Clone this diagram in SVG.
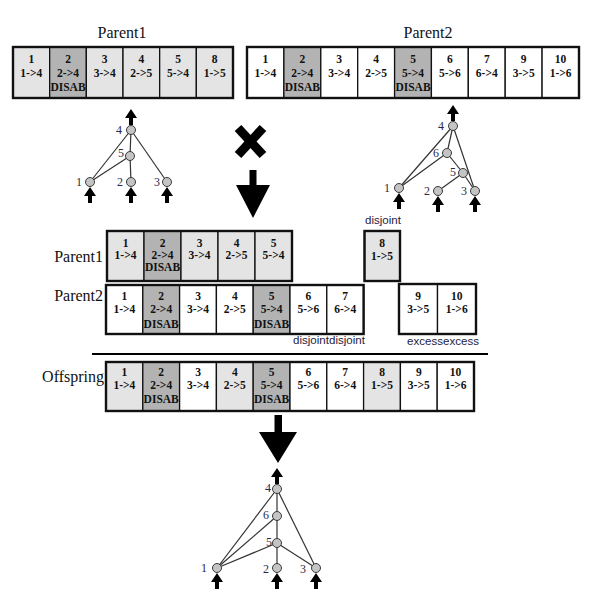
<svg xmlns="http://www.w3.org/2000/svg" xmlns:xlink="http://www.w3.org/1999/xlink" width="603" height="610" viewBox="0 0 603 610">
<style>
.bg{fill:#ffffff}
.c{stroke:#111;stroke-width:1.3}
.lt{fill:#e4e4e4}
.dk{fill:#b3b3b3}
.wh{fill:#ffffff}
.frame{fill:none;stroke:#111;stroke-width:2.4}
.t{font-family:"Liberation Serif","Times New Roman",serif;font-weight:bold;font-size:11.5px;fill:#111;text-anchor:middle}
.title{font-family:"Liberation Serif","Times New Roman",serif;font-size:16px;fill:#111}
.lab{font-family:"Liberation Sans",Arial,sans-serif;font-size:11.5px;fill:#1e2240;text-anchor:middle}
.nl{font-family:"Liberation Serif","Times New Roman",serif;font-size:12px;fill:#2a2a48;text-anchor:middle}
.node{fill:#c4c4c4;stroke:#3a3a3a;stroke-width:1}
.edge{stroke:#333;stroke-width:1.2;fill:none}
.arr{fill:#000}
</style>
<defs>
<path id="up" d="M0,0 L6,9 L2,9 L2,16 L-2,16 L-2,9 L-6,9 Z"/>
</defs>
<rect class="bg" x="0" y="0" width="603" height="610"/>

<!-- Top titles -->
<text class="title" x="122" y="38" text-anchor="middle">Parent1</text>
<text class="title" x="428" y="38" text-anchor="middle">Parent2</text>

<!-- Top Parent1 genome -->
<g id="top-p1">
<g id="tp1-g1"><rect class="c lt" x="13" y="47" width="36.67" height="51"/><text class="t" x="31.3" y="63">1</text><text class="t" x="31.3" y="77">1-&gt;4</text></g>
<g id="tp1-g2"><rect class="c dk" x="49.67" y="47" width="36.67" height="51"/><text class="t" x="68" y="63">2</text><text class="t" x="68" y="77">2-&gt;4</text><text class="t" x="68" y="91">DISAB</text></g>
<g id="tp1-g3"><rect class="c lt" x="86.33" y="47" width="36.67" height="51"/><text class="t" x="104.7" y="63">3</text><text class="t" x="104.7" y="77">3-&gt;4</text></g>
<g id="tp1-g4"><rect class="c lt" x="123" y="47" width="36.67" height="51"/><text class="t" x="141.3" y="63">4</text><text class="t" x="141.3" y="77">2-&gt;5</text></g>
<g id="tp1-g5"><rect class="c lt" x="159.67" y="47" width="36.67" height="51"/><text class="t" x="178" y="63">5</text><text class="t" x="178" y="77">5-&gt;4</text></g>
<g id="tp1-g8"><rect class="c lt" x="196.33" y="47" width="36.67" height="51"/><text class="t" x="214.7" y="63">8</text><text class="t" x="214.7" y="77">1-&gt;5</text></g>
<rect class="frame" x="13" y="47" width="220" height="51"/>
</g>

<!-- Top Parent2 genome -->
<g id="top-p2">
<g id="tp2-g1"><rect class="c wh" x="247" y="47" width="36.89" height="51"/><text class="t" x="265.4" y="63">1</text><text class="t" x="265.4" y="77">1-&gt;4</text></g>
<g id="tp2-g2"><rect class="c dk" x="283.9" y="47" width="36.89" height="51"/><text class="t" x="302.3" y="63">2</text><text class="t" x="302.3" y="77">2-&gt;4</text><text class="t" x="302.3" y="91">DISAB</text></g>
<g id="tp2-g3"><rect class="c wh" x="320.8" y="47" width="36.89" height="51"/><text class="t" x="339.2" y="63">3</text><text class="t" x="339.2" y="77">3-&gt;4</text></g>
<g id="tp2-g4"><rect class="c wh" x="357.7" y="47" width="36.89" height="51"/><text class="t" x="376.1" y="63">4</text><text class="t" x="376.1" y="77">2-&gt;5</text></g>
<g id="tp2-g5"><rect class="c dk" x="394.6" y="47" width="36.89" height="51"/><text class="t" x="413" y="63">5</text><text class="t" x="413" y="77">5-&gt;4</text><text class="t" x="413" y="91">DISAB</text></g>
<g id="tp2-g6"><rect class="c wh" x="431.4" y="47" width="36.89" height="51"/><text class="t" x="449.9" y="63">6</text><text class="t" x="449.9" y="77">5-&gt;6</text></g>
<g id="tp2-g7"><rect class="c wh" x="468.3" y="47" width="36.89" height="51"/><text class="t" x="486.8" y="63">7</text><text class="t" x="486.8" y="77">6-&gt;4</text></g>
<g id="tp2-g9"><rect class="c wh" x="505.2" y="47" width="36.89" height="51"/><text class="t" x="523.7" y="63">9</text><text class="t" x="523.7" y="77">3-&gt;5</text></g>
<g id="tp2-g10"><rect class="c wh" x="542.1" y="47" width="36.89" height="51"/><text class="t" x="560.6" y="63">10</text><text class="t" x="560.6" y="77">1-&gt;6</text></g>
<rect class="frame" x="247" y="47" width="332" height="51"/>
</g>

<!-- Connectors: network edges and arrows -->
<g id="connectors">
<!-- parent1 network -->
<line class="edge" x1="131" y1="130" x2="90" y2="182"/>
<line class="edge" x1="131" y1="130" x2="167" y2="182"/>
<line class="edge" x1="131" y1="130" x2="130" y2="156"/>
<line class="edge" x1="130" y1="156" x2="131" y2="182"/>
<line class="edge" x1="130" y1="156" x2="90" y2="182"/>
<use href="#up" class="arr" x="131" y="109"/>
<use href="#up" class="arr" x="90" y="187"/>
<use href="#up" class="arr" x="131" y="187"/>
<use href="#up" class="arr" x="167" y="187"/>
<!-- parent2 network -->
<line class="edge" x1="453" y1="126" x2="399" y2="188"/>
<line class="edge" x1="453" y1="126" x2="447" y2="153"/>
<line class="edge" x1="453" y1="126" x2="475" y2="191"/>
<line class="edge" x1="447" y1="153" x2="399" y2="188"/>
<line class="edge" x1="447" y1="153" x2="463" y2="173"/>
<line class="edge" x1="463" y1="173" x2="438" y2="191"/>
<line class="edge" x1="463" y1="173" x2="475" y2="191"/>
<use href="#up" class="arr" x="453" y="105"/>
<use href="#up" class="arr" x="399" y="193"/>
<use href="#up" class="arr" x="438" y="196"/>
<use href="#up" class="arr" x="475" y="196"/>
<!-- offspring network -->
<line class="edge" x1="277" y1="489" x2="217" y2="568"/>
<line class="edge" x1="277" y1="489" x2="277" y2="516"/>
<line class="edge" x1="277" y1="489" x2="316" y2="568"/>
<line class="edge" x1="277" y1="516" x2="277" y2="543"/>
<line class="edge" x1="277" y1="516" x2="217" y2="568"/>
<line class="edge" x1="277" y1="543" x2="217" y2="568"/>
<line class="edge" x1="277" y1="543" x2="277" y2="568"/>
<line class="edge" x1="277" y1="543" x2="316" y2="568"/>
<use href="#up" class="arr" x="277" y="468"/>
<use href="#up" class="arr" x="217" y="573"/>
<use href="#up" class="arr" x="277" y="573"/>
<use href="#up" class="arr" x="316" y="573"/>
<!-- big arrows -->
<path class="arr" d="M249.5,170 L256.5,170 L256.5,185 L270,185 L253,218 L236,185 L249.5,185 Z"/>
<path class="arr" d="M274.5,415 L282,415 L282,432 L297,432 L278,463 L259,432 L274.5,432 Z"/>
</g>

<!-- cross sign -->
<g id="cross">
<line x1="238" y1="128" x2="263" y2="155" stroke="#000" stroke-width="9"/>
<line x1="263" y1="128" x2="238" y2="155" stroke="#000" stroke-width="9"/>
</g>

<!-- Parent1 network nodes -->
<g id="p1-n4"><circle class="node" cx="131" cy="130" r="4.5"/><text class="nl" x="119" y="134">4</text></g>
<g id="p1-n5"><circle class="node" cx="130" cy="156" r="4.5"/><text class="nl" x="121" y="157">5</text></g>
<g id="p1-n1"><circle class="node" cx="90" cy="182" r="4.5"/><text class="nl" x="79" y="186">1</text></g>
<g id="p1-n2"><circle class="node" cx="131" cy="182" r="4.5"/><text class="nl" x="120" y="186">2</text></g>
<g id="p1-n3"><circle class="node" cx="167" cy="182" r="4.5"/><text class="nl" x="157" y="186">3</text></g>

<!-- Parent2 network nodes -->
<g id="p2-n4"><circle class="node" cx="453" cy="126" r="4.5"/><text class="nl" x="441" y="130">4</text></g>
<g id="p2-n6"><circle class="node" cx="447" cy="153" r="4.5"/><text class="nl" x="436" y="157">6</text></g>
<g id="p2-n5"><circle class="node" cx="463" cy="173" r="4.5"/><text class="nl" x="453" y="176">5</text></g>
<g id="p2-n1"><circle class="node" cx="399" cy="188" r="4.5"/><text class="nl" x="387" y="192">1</text></g>
<g id="p2-n2"><circle class="node" cx="438" cy="191" r="4.5"/><text class="nl" x="427" y="195">2</text></g>
<g id="p2-n3"><circle class="node" cx="475" cy="191" r="4.5"/><text class="nl" x="464" y="195">3</text></g>

<!-- Middle section -->
<text class="title" x="103" y="262" text-anchor="end">Parent1</text>
<text class="title" x="103" y="301" text-anchor="end">Parent2</text>

<g id="mid-p1">
<g id="mp1-g1"><rect class="c lt" x="107" y="231" width="37" height="50"/><text class="t" x="125.5" y="247">1</text><text class="t" x="125.5" y="259">1-&gt;4</text></g>
<g id="mp1-g2"><rect class="c dk" x="144" y="231" width="37" height="50"/><text class="t" x="162.5" y="247">2</text><text class="t" x="162.5" y="259">2-&gt;4</text><text class="t" x="162.5" y="271">DISAB</text></g>
<g id="mp1-g3"><rect class="c lt" x="181" y="231" width="37" height="50"/><text class="t" x="199.5" y="247">3</text><text class="t" x="199.5" y="259">3-&gt;4</text></g>
<g id="mp1-g4"><rect class="c lt" x="218" y="231" width="37" height="50"/><text class="t" x="236.5" y="247">4</text><text class="t" x="236.5" y="259">2-&gt;5</text></g>
<g id="mp1-g5"><rect class="c lt" x="255" y="231" width="37" height="50"/><text class="t" x="273.5" y="247">5</text><text class="t" x="273.5" y="259">5-&gt;4</text></g>
<rect class="frame" x="107" y="231" width="185" height="50"/>
</g>

<g id="mid-p1-g8">
<rect class="c lt" x="364.5" y="231" width="35.5" height="50"/>
<rect class="frame" x="364.5" y="231" width="35.5" height="50"/>
<text class="t" x="382" y="247">8</text><text class="t" x="382" y="260">1-&gt;5</text>
</g>
<text class="lab" x="383" y="224">disjoint</text>

<g id="mid-p2">
<g id="mp2-g1"><rect class="c wh" x="106" y="285" width="36.8" height="49"/><text class="t" x="124.4" y="300">1</text><text class="t" x="124.4" y="313">1-&gt;4</text></g>
<g id="mp2-g2"><rect class="c dk" x="142.8" y="285" width="36.8" height="49"/><text class="t" x="161.2" y="300">2</text><text class="t" x="161.2" y="313">2-&gt;4</text><text class="t" x="161.2" y="328">DISAB</text></g>
<g id="mp2-g3"><rect class="c wh" x="179.6" y="285" width="36.8" height="49"/><text class="t" x="198" y="300">3</text><text class="t" x="198" y="313">3-&gt;4</text></g>
<g id="mp2-g4"><rect class="c wh" x="216.4" y="285" width="36.8" height="49"/><text class="t" x="234.8" y="300">4</text><text class="t" x="234.8" y="313">2-&gt;5</text></g>
<g id="mp2-g5"><rect class="c dk" x="253.2" y="285" width="36.8" height="49"/><text class="t" x="271.6" y="300">5</text><text class="t" x="271.6" y="313">5-&gt;4</text><text class="t" x="271.6" y="328">DISAB</text></g>
<g id="mp2-g6"><rect class="c wh" x="290" y="285" width="36.8" height="49"/><text class="t" x="308.4" y="300">6</text><text class="t" x="308.4" y="313">5-&gt;6</text></g>
<g id="mp2-g7"><rect class="c wh" x="326.8" y="285" width="36.8" height="49"/><text class="t" x="345.2" y="300">7</text><text class="t" x="345.2" y="313">6-&gt;4</text></g>
<rect class="frame" x="106" y="285" width="257.6" height="49"/>
</g>

<g id="mid-p2-excess">
<g id="mp2-g9"><rect class="c wh" x="399" y="284" width="38.5" height="50"/><text class="t" x="418.2" y="300">9</text><text class="t" x="418.2" y="313">3-&gt;5</text></g>
<g id="mp2-g10"><rect class="c wh" x="437.5" y="284" width="38.5" height="50"/><text class="t" x="456.7" y="300">10</text><text class="t" x="456.7" y="313">1-&gt;6</text></g>
<rect class="frame" x="399" y="284" width="77" height="50"/>
</g>

<text class="lab" x="311" y="344">disjoint</text>
<text class="lab" x="347" y="344">disjoint</text>
<text class="lab" x="425" y="345">excess</text>
<text class="lab" x="461" y="345">excess</text>

<line x1="92" y1="354" x2="488" y2="354" stroke="#000" stroke-width="2"/>

<!-- Offspring -->
<text class="title" x="104" y="382" text-anchor="end">Offspring</text>
<g id="offspring">
<g id="of-g1"><rect class="c lt" x="106" y="362" width="36.8" height="49"/><text class="t" x="124.4" y="376">1</text><text class="t" x="124.4" y="389">1-&gt;4</text></g>
<g id="of-g2"><rect class="c dk" x="142.8" y="362" width="36.8" height="49"/><text class="t" x="161.2" y="376">2</text><text class="t" x="161.2" y="389">2-&gt;4</text><text class="t" x="161.2" y="403">DISAB</text></g>
<g id="of-g3"><rect class="c wh" x="179.6" y="362" width="36.8" height="49"/><text class="t" x="198" y="376">3</text><text class="t" x="198" y="389">3-&gt;4</text></g>
<g id="of-g4"><rect class="c lt" x="216.4" y="362" width="36.8" height="49"/><text class="t" x="234.8" y="376">4</text><text class="t" x="234.8" y="389">2-&gt;5</text></g>
<g id="of-g5"><rect class="c dk" x="253.2" y="362" width="36.8" height="49"/><text class="t" x="271.6" y="376">5</text><text class="t" x="271.6" y="389">5-&gt;4</text><text class="t" x="271.6" y="403">DISAB</text></g>
<g id="of-g6"><rect class="c wh" x="290" y="362" width="36.8" height="49"/><text class="t" x="308.4" y="376">6</text><text class="t" x="308.4" y="389">5-&gt;6</text></g>
<g id="of-g7"><rect class="c wh" x="326.8" y="362" width="36.8" height="49"/><text class="t" x="345.2" y="376">7</text><text class="t" x="345.2" y="389">6-&gt;4</text></g>
<g id="of-g8"><rect class="c lt" x="363.6" y="362" width="36.8" height="49"/><text class="t" x="382" y="376">8</text><text class="t" x="382" y="389">1-&gt;5</text></g>
<g id="of-g9"><rect class="c wh" x="400.4" y="362" width="36.8" height="49"/><text class="t" x="418.8" y="376">9</text><text class="t" x="418.8" y="389">3-&gt;5</text></g>
<g id="of-g10"><rect class="c wh" x="437.2" y="362" width="36.8" height="49"/><text class="t" x="455.6" y="376">10</text><text class="t" x="455.6" y="389">1-&gt;6</text></g>
<rect class="frame" x="106" y="362" width="368" height="49"/>
</g>

<!-- Offspring network nodes -->
<g id="of-n4"><circle class="node" cx="277" cy="489" r="4.5"/><text class="nl" x="268" y="492">4</text></g>
<g id="of-n6"><circle class="node" cx="277" cy="516" r="4.5"/><text class="nl" x="266" y="519">6</text></g>
<g id="of-n5"><circle class="node" cx="277" cy="543" r="4.5"/><text class="nl" x="269" y="546">5</text></g>
<g id="of-n1"><circle class="node" cx="217" cy="568" r="4.5"/><text class="nl" x="204" y="572">1</text></g>
<g id="of-n2"><circle class="node" cx="277" cy="568" r="4.5"/><text class="nl" x="266" y="573">2</text></g>
<g id="of-n3"><circle class="node" cx="316" cy="568" r="4.5"/><text class="nl" x="303" y="573">3</text></g>
</svg>
